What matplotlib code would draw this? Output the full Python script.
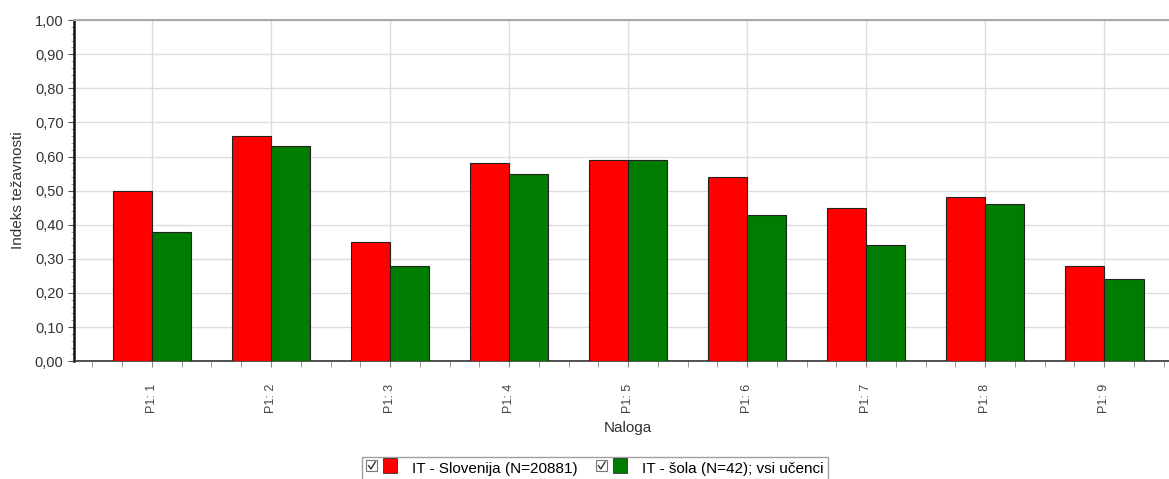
import matplotlib
matplotlib.use("Agg")
import matplotlib.pyplot as plt
from matplotlib.legend_handler import HandlerBase
from matplotlib.patches import Rectangle
from matplotlib.lines import Line2D
from matplotlib.ticker import MultipleLocator, FuncFormatter
import numpy as np

plt.rcParams['font.family'] = ['Liberation Sans', 'DejaVu Sans']

## data
categories = ['P1: 1', 'P1: 2', 'P1: 3', 'P1: 4', 'P1: 5', 'P1: 6', 'P1: 7', 'P1: 8', 'P1: 9']
slovenija = [0.50, 0.66, 0.35, 0.58, 0.59, 0.54, 0.45, 0.48, 0.28]
sola = [0.38, 0.63, 0.28, 0.55, 0.59, 0.43, 0.34, 0.46, 0.24]
labels = ['IT - Slovenija (N=20881)', 'IT - šola (N=42); vsi učenci']
colors = ['#ff0000', '#007c00']


## legend entry: little checkbox followed by the colour square
class CheckHandler(HandlerBase):
    def create_artists(self, legend, orig_handle, xd, yd, width, height, fontsize, trans):
        s = height * 0.85
        box = Rectangle((xd, yd + (height - s) / 2), s, s, facecolor='white',
                        edgecolor='#777777', lw=0.8, transform=trans)
        chk = Line2D([xd + s * 0.2, xd + s * 0.42, xd + s * 0.82],
                     [yd + height * 0.5, yd + height * 0.25, yd + height * 0.8],
                     color='#333333', lw=1.0, transform=trans)
        sq = Rectangle((xd + s + 4, yd - height * 0.05), height * 1.15, height * 1.15,
                       facecolor=orig_handle.get_facecolor(),
                       edgecolor='#333333', lw=0.6, transform=trans)
        return [box, chk, sq]


fig = plt.figure(figsize=(11.69, 4.79), dpi=100)
# the plot runs a little past the right edge of the picture, as in the original
ax = fig.add_axes([0.0633, 0.246, 0.948, 0.712])

x = np.arange(len(categories))
w = 0.33
bars_a = ax.bar(x - w / 2, slovenija, width=w, color=colors[0], edgecolor='#222222', linewidth=0.8, zorder=3)
bars_b = ax.bar(x + w / 2, sola, width=w, color=colors[1], edgecolor='#222222', linewidth=0.8, zorder=3)

ax.set_ylim(0, 1.0)
ax.set_xlim(-0.655, 8.655)
ax.yaxis.set_major_locator(MultipleLocator(0.1))
ax.yaxis.set_minor_locator(MultipleLocator(0.02))
ax.yaxis.set_major_formatter(FuncFormatter(lambda v, p: f'{v:.2f}'.replace('.', ',')))
ax.set_xticks(x)
ax.set_xticklabels(categories, rotation=90, fontsize=9, color='#444444')
ax.set_xticks(np.arange(-0.5, 8.6, 0.25), minor=True)

ax.grid(True, which='major', color='#dddddd', linewidth=1.0, zorder=0)
ax.tick_params(axis='y', which='major', labelsize=10.5, colors='#555555', length=4, labelcolor='#333333')
ax.tick_params(axis='y', which='minor', length=2, colors='#999999')
ax.tick_params(axis='x', which='major', length=4, pad=12, colors='#888888', labelcolor='#444444')
ax.tick_params(axis='x', which='minor', length=4, colors='#888888')

ax.spines['left'].set_linewidth(1.8)
ax.spines['left'].set_color('#111111')
ax.spines['bottom'].set_linewidth(1.2)
ax.spines['bottom'].set_color('#333333')
ax.spines['top'].set_color('#aaaaaa')
ax.spines['top'].set_linewidth(1.5)
ax.spines['right'].set_visible(False)

ax.set_ylabel('Indeks težavnosti', fontsize=11, color='#333333', labelpad=7)
ax.set_xlabel('Naloga', fontsize=11, color='#333333', labelpad=6)

fig.legend([bars_a[0], bars_b[0]], labels, handler_map={bars_a[0]: CheckHandler(), bars_b[0]: CheckHandler()},
           loc='upper center', bbox_to_anchor=(0.509, 0.046), borderaxespad=0, ncol=2, fontsize=11,
           frameon=True, fancybox=False, edgecolor='#888888', handlelength=2.2,
           handleheight=0.9, handletextpad=0.8, columnspacing=1.2, borderpad=0.3)

fig.savefig('out.png', dpi=100)
